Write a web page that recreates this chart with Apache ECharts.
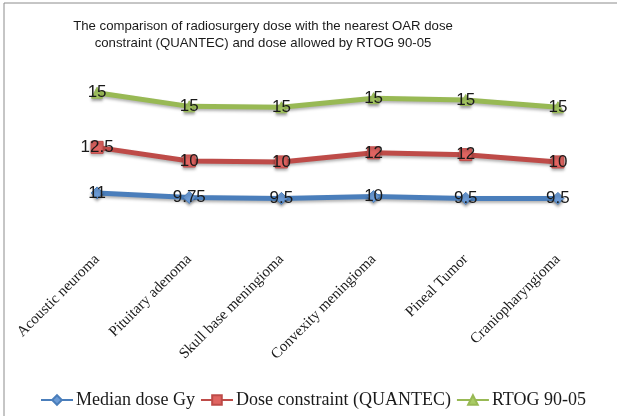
<!DOCTYPE html>
<html>
<head>
<meta charset="utf-8">
<script src="https://cdn.jsdelivr.net/npm/echarts@6/dist/echarts.min.js"></script>
<style>
  html, body { margin: 0; padding: 0; background: #fff; }
  #chart { width: 617px; height: 416px; }
</style>
</head>
<body>
<div id="chart"></div>
<script>
// categories and values
const categories = [
  "Acoustic neuroma",
  "Pituitary adenoma",
  "Skull base meningioma",
  "Convexity meningioma",
  "Pineal Tumor",
  "Craniopharyngioma"
];
const medianDose = [11, 9.75, 9.5, 10, 9.5, 9.5];
const quantec = [12.5, 10, 10, 12, 12, 10];
const rtog = [15, 15, 15, 15, 15, 15];

const chart = echarts.init(document.getElementById("chart"));

function lineSeries(name, data, color, markerColor, symbol, size) {
  return {
    name: name,
    type: "line",
    stack: "total",
    data: data,
    symbol: symbol,
    symbolSize: size,
    lineStyle: {
      width: 5,
      color: color,
      shadowColor: "rgba(0,0,0,0.3)",
      shadowBlur: 3,
      shadowOffsetY: 2
    },
    itemStyle: {
      color: markerColor,
      borderColor: color,
      borderWidth: 1,
      shadowColor: "rgba(0,0,0,0.35)",
      shadowBlur: 3,
      shadowOffsetY: 2
    },
    label: {
      show: true,
      position: "inside",
      color: "#1a1a1a",
      fontFamily: "Liberation Sans, Arial, sans-serif",
      fontSize: 17
    },
    emphasis: { disabled: true },
    animation: false
  };
}

chart.setOption({
  backgroundColor: "#fff",
  title: {
    text: "The comparison of radiosurgery dose with the nearest OAR dose\nconstraint (QUANTEC) and dose allowed by RTOG 90-05",
    left: 258,
    top: 13,
    textAlign: "center",
    textStyle: {
      fontFamily: "Liberation Sans, Arial, sans-serif",
      fontSize: 13.2,
      fontWeight: "normal",
      color: "#1a1a1a",
      lineHeight: 17
    }
  },
  legend: {
    left: 35,
    top: 386,
    itemWidth: 32,
    itemHeight: 12,
    itemGap: 5,
    textStyle: {
      fontFamily: "Liberation Serif, Times New Roman, serif",
      fontSize: 18,
      color: "#1a1a1a",
      padding: [0, 0, 0, -2]
    },
    data: ["Median dose Gy", "Dose constraint (QUANTEC)", "RTOG 90-05"]
  },
  graphic: [
    {
      type: "rect",
      shape: { x: 4, y: 3, width: 800, height: 600 },
      style: { fill: "none", stroke: "#8c8c8c", lineWidth: 1 },
      silent: true
    }
  ],
  grid: {
    left: 51,
    right: 13,
    top: 69,
    bottom: 183
  },
  xAxis: {
    type: "category",
    data: categories,
    boundaryGap: true,
    axisLine: { show: false },
    axisTick: { show: false },
    axisLabel: {
      rotate: 45,
      interval: 0,
      margin: 24,
      fontFamily: "Liberation Serif, Times New Roman, serif",
      fontSize: 15,
      color: "#1a1a1a"
    }
  },
  yAxis: {
    type: "value",
    min: 0,
    max: 45,
    show: false
  },
  series: [
    lineSeries("Median dose Gy", medianDose, "#4a7ebb", "#6b9bd6", "diamond", 12),
    lineSeries("Dose constraint (QUANTEC)", quantec, "#be4b48", "#e06461", "rect", 12),
    lineSeries("RTOG 90-05", rtog, "#98b954", "#a9cc65", "triangle", 11)
  ]
});
</script>
</body>
</html>
